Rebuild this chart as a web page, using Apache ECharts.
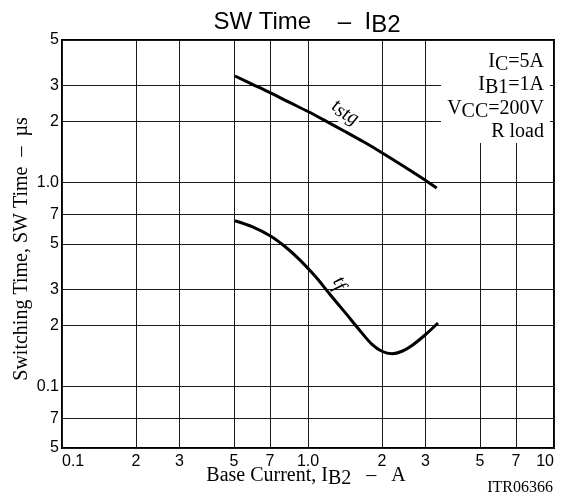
<!DOCTYPE html>
<html>
<head>
<meta charset="utf-8">
<script src="https://cdn.jsdelivr.net/npm/echarts@6/dist/echarts.min.js"></script>
<style>html,body{margin:0;padding:0;background:#fff}#c{width:572px;height:500px}</style>
</head>
<body>
<div id="c"></div>
<script>
const xTickValues = [0.1, 0.2, 0.3, 0.5, 0.7, 1, 2, 3, 5, 7, 10];
const xTickLabels = ['0.1', '2', '3', '5', '7', '1.0', '2', '3', '5', '7', '10'];
const yTickValues = [0.05, 0.07, 0.1, 0.2, 0.3, 0.5, 0.7, 1, 2, 3, 5];
const yTickLabels = ['5', '7', '0.1', '2', '3', '5', '7', '1.0', '2', '3', '5'];
const tstgX = [0.505, 0.592, 0.701, 0.837, 1.0, 1.184, 1.414, 1.689, 2.02, 2.456, 2.99, 3.336];
const tstgY = [3.33, 3.04, 2.76, 2.48, 2.23, 2.00, 1.78, 1.58, 1.39, 1.20, 1.03, 0.94];
const tfX = [0.505, 0.592, 0.701, 0.806, 0.928, 1.068, 1.229, 1.414, 1.627, 1.821, 1.998, 2.195, 2.411, 2.647, 2.99, 3.377];
const tfY = [0.650, 0.608, 0.549, 0.486, 0.417, 0.348, 0.283, 0.231, 0.188, 0.161, 0.149, 0.145, 0.149, 0.159, 0.179, 0.205];

function labeler(vals, labs) {
  return function (v) {
    for (let i = 0; i < vals.length; i++) {
      if (Math.abs(Math.log10(v) - Math.log10(vals[i])) < 1e-6) return labs[i];
    }
    return '';
  };
}
const SANS = 'Liberation Sans, Arial, sans-serif';
const SERIF = 'Liberation Serif, Times New Roman, serif';
const gridCol = '#1a1a1a';

const chart = echarts.init(document.getElementById('c'));
const option = {
  animation: false,
  backgroundColor: '#fff',
  grid: { left: 62, right: 18, top: 40, bottom: 52, show: true, borderColor: '#000', borderWidth: 2 },
  xAxis: {
    type: 'log', logBase: 10, min: 0.1, max: 10,
    axisLine: { show: true, lineStyle: { color: '#000', width: 2 } },
    axisTick: { show: true, inside: true, length: 408, customValues: xTickValues, lineStyle: { color: gridCol, width: 1 } },
    axisLabel: { customValues: xTickValues, formatter: labeler(xTickValues, xTickLabels), color: '#000', fontFamily: SANS, fontSize: 16, margin: 6, alignMinLabel: 'left', alignMaxLabel: 'right' },
    splitLine: { show: false }, minorTick: { show: false }, minorSplitLine: { show: false }
  },
  yAxis: {
    type: 'log', logBase: 10, min: 0.05, max: 5,
    axisLine: { show: true, lineStyle: { color: '#000', width: 2 } },
    axisTick: { show: true, inside: true, length: 492, customValues: yTickValues, lineStyle: { color: gridCol, width: 1 } },
    axisLabel: { customValues: yTickValues, formatter: labeler(yTickValues, yTickLabels), color: '#000', fontFamily: SANS, fontSize: 16, margin: 3 },
    splitLine: { show: false }, minorTick: { show: false }, minorSplitLine: { show: false }
  },
  series: [
    { type: 'line', name: 'tstg', data: tstgX.map((x, i) => [x, tstgY[i]]), smooth: 0.3, symbol: 'none', lineStyle: { color: '#000', width: 3 }, z: 3 },
    { type: 'line', name: 'tf', data: tfX.map((x, i) => [x, tfY[i]]), smooth: 0.3, symbol: 'none', lineStyle: { color: '#000', width: 3 }, z: 3 }
  ],
  graphic: [
    { type: 'rect', z: 1, shape: { x: 441, y: 41, width: 109, height: 102 }, style: { fill: '#fff' } },
    { type: 'text', z: 5, x: 307, y: 6, style: { text: '{m|SW Time    –  I}{s|B2}', align: 'center', verticalAlign: 'top',
        rich: { m: { fontFamily: SANS, fontSize: 24, lineHeight: 32, fill: '#000' }, s: { fontFamily: SANS, fontSize: 24, lineHeight: 32, padding: [6, 0, 0, 0], fill: '#000' } } } },
    { type: 'text', z: 5, x: 544, y: 48, style: { text: '{m|I}{s|C}{m|=5A}', align: 'right', verticalAlign: 'top',
        rich: { m: { fontFamily: SERIF, fontSize: 20, lineHeight: 28, fill: '#000' }, s: { fontFamily: SERIF, fontSize: 20, lineHeight: 28, padding: [5, 0, 0, 0], fill: '#000' } } } },
    { type: 'text', z: 5, x: 544, y: 71, style: { text: '{m|I}{s|B1}{m|=1A}', align: 'right', verticalAlign: 'top',
        rich: { m: { fontFamily: SERIF, fontSize: 20, lineHeight: 28, fill: '#000' }, s: { fontFamily: SERIF, fontSize: 20, lineHeight: 28, padding: [5, 0, 0, 0], fill: '#000' } } } },
    { type: 'text', z: 5, x: 544, y: 95, style: { text: '{m|V}{s|CC}{m|=200V}', align: 'right', verticalAlign: 'top',
        rich: { m: { fontFamily: SERIF, fontSize: 20, lineHeight: 28, fill: '#000' }, s: { fontFamily: SERIF, fontSize: 20, lineHeight: 28, padding: [5, 0, 0, 0], fill: '#000' } } } },
    { type: 'text', z: 5, x: 544, y: 122, style: { text: 'R load', align: 'right', verticalAlign: 'top', font: '20px ' + SERIF, fill: '#000' } },
    { type: 'text', z: 1, x: 346, y: 111, rotation: -0.5, style: { text: '{m|t}{s|stg}', align: 'center', verticalAlign: 'middle', backgroundColor: '#fff', padding: [0, 2, 0, 2],
        rich: { m: { fontFamily: SERIF, fontStyle: 'italic', fontSize: 20, lineHeight: 26, fill: '#000' }, s: { fontFamily: SERIF, fontStyle: 'italic', fontSize: 20, lineHeight: 26, padding: [6, 0, 0, 0], fill: '#000' } } } },
    { type: 'text', z: 1, x: 340, y: 283, rotation: -0.95, style: { text: '{m|t}{s|f}', align: 'center', verticalAlign: 'middle',
        rich: { m: { fontFamily: SERIF, fontStyle: 'italic', fontSize: 20, lineHeight: 26, fill: '#000' }, s: { fontFamily: SERIF, fontStyle: 'italic', fontSize: 20, lineHeight: 26, padding: [6, 0, 0, 0], fill: '#000' } } } },
    { type: 'text', z: 5, x: 22, y: 249, rotation: Math.PI / 2, style: { text: 'Switching Time, SW Time  –  µs', align: 'center', verticalAlign: 'middle', font: '20px ' + SERIF, fill: '#000' } },
    { type: 'text', z: 5, x: 306, y: 461, style: { text: '{m|Base Current, I}{s|B2}{m|   –   A}', align: 'center', verticalAlign: 'top',
        rich: { m: { fontFamily: SERIF, fontSize: 20, lineHeight: 30, fill: '#000' }, s: { fontFamily: SERIF, fontSize: 20, lineHeight: 30, padding: [6, 0, 0, 0], fill: '#000' } } } },
    { type: 'text', z: 5, x: 553, y: 488, style: { text: 'ITR06366', align: 'right', verticalAlign: 'middle', font: '16px ' + SERIF, fill: '#000' } }
  ]
};
chart.setOption(option);
</script>
</body>
</html>
